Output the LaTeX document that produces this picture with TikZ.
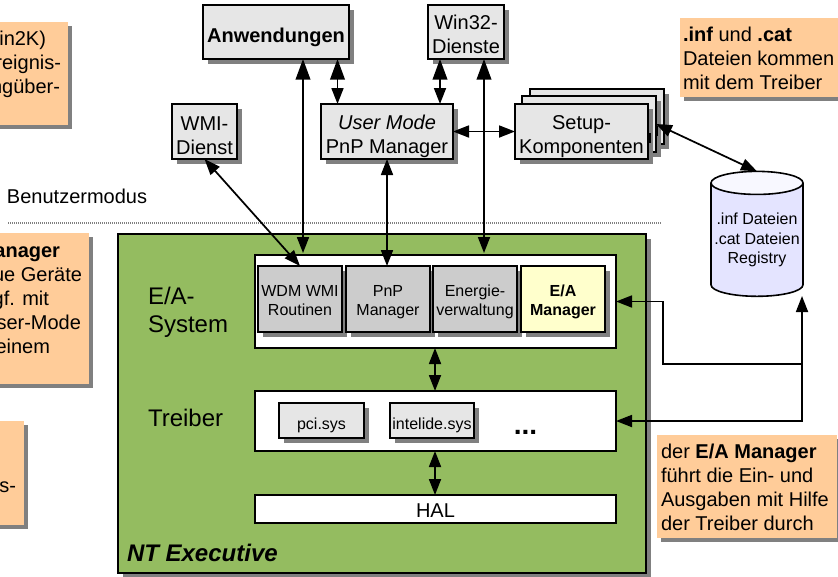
\documentclass[tikz,border=0pt]{standalone}
\usepackage{fontspec}
\setmainfont{Liberation Sans}
\usetikzlibrary{arrows.meta,shadows,shapes.geometric}
\definecolor{shadowgray}{HTML}{808080}
\definecolor{notefill}{HTML}{FFCC99}
\definecolor{boxfill}{HTML}{E6E6E6}
\definecolor{innerfill}{HTML}{CCCCCC}
\definecolor{yellowfill}{HTML}{FFFFCC}
\definecolor{greenfill}{HTML}{94BC60}
\definecolor{cylbody}{HTML}{E4E4FF}
\definecolor{cyltop}{HTML}{F8F8FF}
\newcommand{\rectnode}[7]{\node[#6,minimum width={(#4-(#2))*0.75pt},minimum height={(#5-(#3))*0.75pt}] (#1) at ({(#2+#4)/2},{(#3+#5)/2}) {#7};}
\newcommand{\lowered}[2]{\raisebox{-#1}[\height][\depth]{\begin{tabular}{@{}c@{}}#2\end{tabular}}}
\tikzset{
  base/.style={rectangle,inner sep=0pt,outer sep=0pt,align=center,font=\fontsize{15}{18}\selectfont},
  shad/.style={general shadow={fill=shadowgray,shadow xshift=#1,shadow yshift=-#1}},
  shad/.default=3.6pt,
  userbox/.style={base,draw=black,line width=1.2pt,fill=boxfill,shad},
  whitebox/.style={base,draw=black,line width=1.1pt,fill=white},
  innerbox/.style={base,draw=black,line width=1.2pt,fill=innerfill,shad,font=\fontsize{12}{14.4}\selectfont},
  smallbox/.style={base,draw=black,line width=1.2pt,fill=boxfill,shad,font=\fontsize{12}{14.4}\selectfont},
  notebox/.style={base,fill=notefill,shad=3pt},
  notetext/.style={base,anchor=base east},
  plainlabel/.style={base,anchor=west,align=left},
  conn/.style={line width=1.3pt,draw=black},
  both/.style={conn,arrows={Triangle[length=12pt,width=9pt]-Triangle[length=12pt,width=9pt]}},
  bigboth/.style={conn,arrows={Triangle[length=15.5pt,width=11pt]-Triangle[length=12pt,width=9pt]}},
  startonly/.style={conn,arrows={Triangle[length=12pt,width=9pt]-}}
}
\begin{document}
\begin{tikzpicture}[x=0.75pt,y=-0.75pt]
\clip (0,0) rectangle (838,576);
\fill[white] (0,0) rectangle (838,576);
% left notes
\rectnode{noteA}{-20}{22}{68}{125}{notebox}{}
\node[notetext] (a1) at (46,45) {in2K)};
\node[notetext] (a2) at (61,69) {reignis-};
\node[notetext] (a3) at (60,93) {ngüber-};
\rectnode{noteB}{-20}{233}{89}{384}{notebox}{}
\node[notetext] (b1) at (60,257) {\bfseries anager};
\node[notetext] (b2) at (82,281) {ue Geräte};
\node[notetext] (b3) at (49,305) {gf. mit};
\node[notetext] (b4) at (81,329) {ser-Mode};
\node[notetext] (b5) at (50,353) {einem};
\rectnode{noteC}{-20}{421}{24}{525}{notebox}{}
\node[notetext] (c1) at (16,492) {s-};
% right notes
\rectnode{noteD}{680}{18}{845}{97}{notebox}{}
\node[base,align=left,anchor=west] (d1) at (683,58) {\bfseries .inf \mdseries und \bfseries .cat\\Dateien kommen\\mit dem Treiber};
\rectnode{noteE}{656.5}{435}{836.5}{538}{notebox}{}
\node[base,align=left,anchor=west] (e1) at (661,487.5) {der \textbf{E/A Manager}\\führt die Ein- und\\Ausgaben mit Hilfe\\der Treiber durch};
% user mode boxes
\rectnode{anw}{203}{5}{349}{59}{userbox}{\lowered{4.4pt}{\bfseries Anwendungen}}
\rectnode{wmi}{172}{104}{237}{159}{userbox}{\lowered{4.5pt}{WMI-\\Dienst}}
\rectnode{um}{321}{104}{453}{159}{userbox}{\lowered{3.8pt}{\itshape User Mode\\PnP Manager}}
\rectnode{win}{428}{5}{504}{59}{userbox}{\lowered{3.4pt}{Win32-\\Dienste}}
\rectnode{setupc}{530}{89}{664}{144}{userbox}{}
\rectnode{setupb}{522}{96}{656}{152}{userbox}{}
\coordinate (tailAa) at (657.5,126);
\coordinate (tailAb) at (657.5,136);
\draw[black,line width=1.3pt] (tailAa) -- (tailAb);
\rectnode{setupa}{515}{104}{648}{159}{userbox}{\lowered{4pt}{Setup-\\Komponenten}}
\coordinate (tailBa) at (650,133);
\coordinate (tailBb) at (650,143);
\draw[black,line width=1.3pt] (tailBa) -- (tailBb);
\node[base,anchor=west] (bm) at (7,196) {Benutzermodus};
\coordinate (sepL) at (8,223);
\coordinate (sepR) at (662,223);
\draw[shadowgray,line width=1.3pt,dash pattern=on 0.75pt off 0.75pt] (sepL) -- (sepR);
% cylinder
\node[cylinder,shape border rotate=90,aspect=0.27,draw=black,line width=1.2pt,cylinder uses custom fill,cylinder body fill=cylbody,cylinder end fill=cyltop,inner sep=0pt,outer sep=0pt,minimum width=69pt,minimum height=93.7pt,align=center,font=\fontsize{12}{14.4}\selectfont] (cyl) at (757,240) {.inf Dateien\\.cat Dateien\\Registry};
% executive
\rectnode{nt}{118}{234}{646}{573}{base,draw=black,line width=1.1pt,fill=greenfill,shad}{}
\rectnode{easys}{255}{255}{616}{348}{whitebox}{}
\rectnode{wdm}{258}{266}{342}{332}{innerbox}{\lowered{2.6pt}{WDM WMI\\Routinen}}
\rectnode{pnp}{346}{266}{430}{332}{innerbox}{\lowered{2.6pt}{PnP\\Manager}}
\rectnode{ener}{433}{266}{517}{332}{innerbox}{\lowered{2.6pt}{Energie-\\verwaltung}}
\rectnode{eam}{521}{266}{605}{332}{innerbox,fill=yellowfill,font=\fontsize{12}{14.4}\selectfont\bfseries}{\lowered{2.6pt}{E/A\\Manager}}
\rectnode{treib}{255}{391}{616}{451}{whitebox}{}
\rectnode{pci}{279}{403}{364}{438}{smallbox}{\lowered{4pt}{pci.sys}}
\rectnode{inte}{390}{403}{474}{438}{smallbox}{\lowered{4pt}{intelide.sys}}
\node[base,anchor=base,font=\fontsize{21}{24}\selectfont\bfseries] (dots) at (525.5,434) {...};
\rectnode{hal}{255}{495}{616}{523}{whitebox}{\lowered{3pt}{HAL}}
\node[plainlabel,font=\fontsize{18}{21}\selectfont] (easyl) at (148,312) {E/A-\\System};
\node[plainlabel,font=\fontsize{18}{21}\selectfont] (treibl) at (148,418) {Treiber};
\node[plainlabel,font=\fontsize{18}{21}\selectfont\bfseries\itshape] (ntl) at (127,553) {NT Executive};
% connectors
\coordinate (xa) at (303,0);
\coordinate (xb) at (337.5,0);
\coordinate (xc) at (440,0);
\coordinate (xd) at (484,0);
\coordinate (xe) at (435,0);
\coordinate (turnA) at (663,301.5);
\coordinate (turnB) at (663,364);
\coordinate (joinA) at (802,364);
\coordinate (joinB) at (802,421);
\coordinate (upTip) at (802,296);
\draw[bigboth,shorten >=1.5pt] (anw.south -| xa) -- (easys.north -| xa);
\draw[bigboth] (anw.south -| xb) -- (um.north -| xb);
\draw[bigboth] (win.south -| xc) -- (um.north -| xc);
\draw[bigboth,shorten >=1.5pt] (win.south -| xd) -- (easys.north -| xd);
\draw[both] (wmi.south) -- (wdm.north);
\draw[both] (um.south) -- (um.south |- pnp.north);
\draw[both] (um.east) -- (setupa.west);
\draw[both] (setupb.east) -- (cyl.north);
\draw[both] (easys.south -| xe) -- (treib.north -| xe);
\draw[both] (treib.south -| xe) -- (hal.north -| xe);
\draw[startonly] (easys.east) -- (turnA) -- (turnB) -- (joinA);
\draw[both] (treib.east) -- (joinB) -- (upTip);
\end{tikzpicture}
\end{document}
